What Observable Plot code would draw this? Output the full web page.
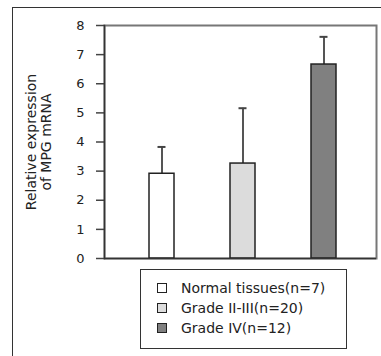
<!DOCTYPE html>
<html>
<head>
<meta charset="utf-8">
<script src="https://cdn.jsdelivr.net/npm/d3@7"></script>
<script src="https://cdn.jsdelivr.net/npm/@observablehq/plot@0.6"></script>
<style>
  html, body { margin: 0; padding: 0; background: #fff; }
  #wrap { position: relative; width: 381px; height: 356px; overflow: hidden; font-family: "DejaVu Sans", sans-serif; }
  #outer { position: absolute; left: 12px; top: 7px; width: 400px; height: 400px; border-left: 1.5px solid #333; border-top: 1.5px solid #333; }
  #chart { position: absolute; left: 0; top: 0; }
  #legend { position: absolute; left: 140px; top: 269px; width: 207px; height: 80px; box-sizing: border-box; border: 1.5px solid #333; padding-top: 8px; }
  .row { height: 20px; display: flex; align-items: center; font-size: 14px; color: #222; }
  .sw { width: 8px; height: 8px; border: 1px solid #222; margin-left: 16px; margin-right: 14px; }
</style>
</head>
<body>
<div id="wrap">
  <div id="outer"></div>
  <div id="chart"></div>
  <div id="legend"></div>
</div>
<script>
const categories = ["Normal tissues", "Grade II-III", "Grade IV"];
const legendLabels = ["Normal tissues(n=7)", "Grade II-III(n=20)", "Grade IV(n=12)"];
const means = [2.91, 3.26, 6.66];
const upper = [3.83, 5.16, 7.61];
const fills = ["#ffffff", "#dcdcdc", "#808080"];
const yTicks = [0, 1, 2, 3, 4, 5, 6, 7, 8];
const yLabel = "Relative expression\nof MPG mRNA";

const data = categories.map((c, i) => ({cat: c, mean: means[i], upper: upper[i], fill: fills[i]}));

const chart = Plot.plot({
  width: 381,
  height: 356,
  marginLeft: 104,
  marginRight: 5,
  marginTop: 25,
  marginBottom: 98,
  style: {fontFamily: "DejaVu Sans, sans-serif", background: "transparent"},
  x: {domain: categories, paddingInner: 0.69, paddingOuter: 0.52, align: 0.53, axis: null},
  y: {domain: [0, 8], axis: null},
  marks: [
    Plot.frame({stroke: "#777", strokeWidth: 2}),
    Plot.axisY({ticks: yTicks, tickSize: 8, tickPadding: 12, stroke: "#444", strokeWidth: 1.5, fill: "#222", fontSize: 13, label: null, tickFormat: d => String(d)}),
    Plot.ruleX(data, {x: "cat", y1: "mean", y2: "upper", stroke: "#555", strokeWidth: 2}),
    Plot.tickY(data, {x: "cat", y: "upper", insetLeft: 8.5, insetRight: 8.5, stroke: "#444", strokeWidth: 2}),
    Plot.barY(data, {x: "cat", y: "mean", fill: d => d.fill, stroke: "#222", strokeWidth: 1.5}),
    Plot.frame({anchor: "left", stroke: "#333", strokeWidth: 1.5}),
    Plot.ruleY([0], {stroke: "#333", strokeWidth: 1.5}),
    Plot.text([yLabel], {frameAnchor: "left", textAnchor: "middle", lineAnchor: "middle", text: d => d, rotate: -90, dx: -66, fontSize: 14, lineHeight: 15 / 14, fill: "#222"})
  ]
});
document.getElementById("chart").appendChild(chart);

const legend = document.getElementById("legend");
legendLabels.forEach((lab, i) => {
  const row = document.createElement("div");
  row.className = "row";
  const sw = document.createElement("div");
  sw.className = "sw";
  sw.style.background = fills[i];
  const t = document.createElement("span");
  t.textContent = lab;
  row.appendChild(sw);
  row.appendChild(t);
  legend.appendChild(row);
});
</script>
</body>
</html>
